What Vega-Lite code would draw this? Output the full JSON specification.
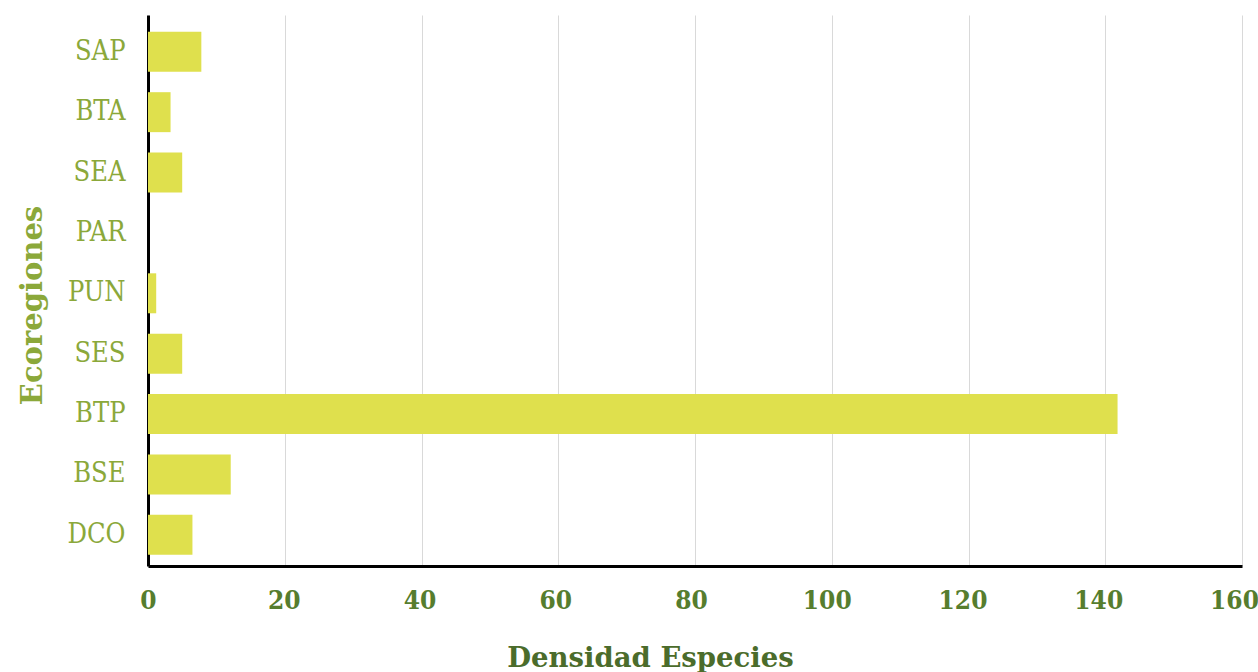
{
  "$schema": "https://vega.github.io/schema/vega-lite/v6.json",
  "width": 1094,
  "height": 551,
  "autosize": {"type": "none"},
  "padding": {"left": 148, "top": 15, "right": 16, "bottom": 106},
  "background": "white",
  "config": {"view": {"stroke": null}},
  "data": {
    "values": [
      {"ecoregion": "SAP", "densidad": 7.8},
      {"ecoregion": "BTA", "densidad": 3.3},
      {"ecoregion": "SEA", "densidad": 5.0},
      {"ecoregion": "PAR", "densidad": 0},
      {"ecoregion": "PUN", "densidad": 1.2},
      {"ecoregion": "SES", "densidad": 5.0},
      {"ecoregion": "BTP", "densidad": 141.8},
      {"ecoregion": "BSE", "densidad": 12.1},
      {"ecoregion": "DCO", "densidad": 6.5}
    ]
  },
  "mark": {"type": "bar", "color": "#DFE04D"},
  "encoding": {
    "y": {
      "field": "ecoregion",
      "type": "nominal",
      "sort": null,
      "scale": {"paddingInner": 0.338, "paddingOuter": 0.232, "align": 0.6},
      "axis": {
        "title": "Ecoregiones",
        "titleFont": "DejaVu Serif",
        "titleFontWeight": "bold",
        "titleFontSize": 29,
        "titleColor": "#8BA83A",
        "titlePadding": 20,
        "titleY": 290,
        "labelFont": "DejaVu Serif Condensed, DejaVu Serif",
        "labelFontWeight": "normal",
        "labelFontSize": 27,
        "labelColor": "#8BA83A",
        "labelPadding": 23,
        "ticks": false,
        "domainColor": "#000000",
        "domainWidth": 3,
        "grid": false
      }
    },
    "x": {
      "field": "densidad",
      "type": "quantitative",
      "scale": {"domain": [0, 160], "nice": false},
      "axis": {
        "title": "Densidad Especies",
        "titleFont": "DejaVu Serif",
        "titleFontWeight": "bold",
        "titleFontSize": 27.5,
        "titleColor": "#4B6C2B",
        "titlePadding": 31,
        "titleX": 502,
        "values": [0, 20, 40, 60, 80, 100, 120, 140, 160],
        "labelFont": "DejaVu Serif Condensed, DejaVu Serif",
        "labelFontWeight": "bold",
        "labelFontSize": 26,
        "labelColor": "#567D2E",
        "labelPadding": 21,
        "labelOffset": {"expr": "-datum.value / 20"},
        "labelFlush": false,
        "ticks": false,
        "domainColor": "#000000",
        "domainWidth": 3,
        "grid": true,
        "gridColor": "#D9D9D9",
        "gridWidth": 1
      }
    }
  }
}
